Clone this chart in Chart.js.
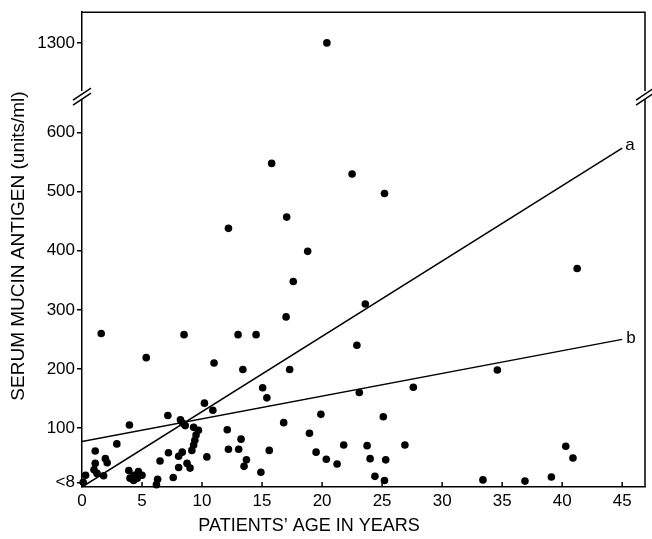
<!DOCTYPE html>
<html>
<head>
<meta charset="utf-8">
<script src="https://cdn.jsdelivr.net/npm/chart.js@4"></script>
<style>
  body { margin: 0; background: #fff; }
</style>
</head>
<body>
<canvas id="chart" width="652" height="539"></canvas>
<script>
// patients' age (years) and serum mucin antigen (units/ml)
const ages = [
  20.4, 15.8, 17.05, 12.2, 18.8, 22.5, 25.2, 41.25, 17.6, 23.6,
  17.0, 1.6, 8.5, 13.0, 14.5, 22.9, 5.35, 11.0, 13.4, 17.3,
  34.6, 15.05, 27.6, 23.1, 15.4, 10.2, 10.9, 19.9, 7.15, 25.1,
  8.2, 8.4, 8.6, 3.95, 16.8, 9.3, 9.7, 12.1, 9.5, 18.95,
  9.4, 13.25, 2.9, 9.3, 21.8, 23.75, 26.9, 40.3, 9.15, 12.2,
  13.05, 15.6, 1.1, 19.5, 7.2, 8.35, 8.05, 10.4, 40.9, 1.95,
  20.35, 24.0, 25.3, 13.7, 6.5, 2.1, 1.1, 8.75, 21.25, 13.5,
  8.05, 9.0, 1.0, 3.9, 4.7, 14.9, 1.25, 4.3, 5.0, 0.3,
  1.8, 24.4, 39.1, 7.6, 4.0, 4.6, 4.3, 6.3, 6.2, 25.2,
  33.4, 36.9, 0.1
];
const antigen = [
  1300, 548, 457, 438, 399, 530, 497, 370, 348, 310,
  288, 260, 258, 258, 258, 240, 219, 210, 199, 199,
  198, 168, 169, 160, 151, 142, 130, 123, 121, 119,
  114, 108, 104, 105, 109, 101, 96, 97, 88, 91,
  79, 81, 73, 71, 71, 70, 71, 69, 62, 64,
  64, 62, 61, 59, 58, 59, 52, 51, 49, 48,
  47, 48, 46, 46, 44, 41, 40, 40, 39, 35,
  33, 32, 29, 28, 26, 25, 23, 20, 20, 20,
  19, 18, 17, 16, 15, 15, 11, 13, 4, 11,
  12, 10, 8
];

// regression lines a and b
const fitAges = [0, 45];
const fitA = [0, 574];
const fitB = [77, 250];

const xTickValues = [0, 5, 10, 15, 20, 25, 30, 35, 40, 45];
const yTickValues = [8, 100, 200, 300, 400, 500, 600, 1300];
const yTickLabels = ["<8", "100", "200", "300", "400", "500", "600", "1300"];

// broken axis: everything above the break is pulled down
const BREAK_AT = 662;
function toAxis(v) { return v > 700 ? v - 548 : v; }

const FONT = "'Liberation Sans', Arial, sans-serif";

const frame = {
  id: "frame",
  afterDraw(chart) {
    const { ctx, chartArea: a, scales: { x, y } } = chart;
    ctx.save();
    ctx.strokeStyle = "#000";
    ctx.lineWidth = 1.5;

    ctx.beginPath();
    ctx.moveTo(a.left, a.top);
    ctx.lineTo(a.right, a.top);
    ctx.lineTo(a.right, a.bottom);
    ctx.stroke();

    // x ticks point inwards
    xTickValues.forEach(v => {
      const px = x.getPixelForValue(v);
      ctx.beginPath();
      ctx.moveTo(px, a.bottom);
      ctx.lineTo(px, a.bottom - 5);
      ctx.stroke();
    });

    // axis break marks
    const by = y.getPixelForValue(BREAK_AT);
    [a.left, a.right].forEach(bx => {
      ctx.fillStyle = "#fff";
      ctx.fillRect(bx - 2, by - 5, 4, 8);
      ctx.beginPath();
      ctx.moveTo(bx - 9, by + 4);
      ctx.lineTo(bx + 9, by - 8);
      ctx.moveTo(bx - 9, by + 9);
      ctx.lineTo(bx + 9, by - 3);
      ctx.stroke();
    });

    // line labels
    ctx.fillStyle = "#000";
    ctx.font = "17px " + FONT;
    ctx.textAlign = "left";
    ctx.textBaseline = "middle";
    ctx.fillText("a", x.getPixelForValue(fitAges[1]) + 3, y.getPixelForValue(fitA[1]) - 3);
    ctx.fillText("b", x.getPixelForValue(fitAges[1]) + 4, y.getPixelForValue(fitB[1]) - 1);

    // axis titles
    ctx.textAlign = "center";
    ctx.font = "18px " + FONT;
    ctx.fillText("PATIENTS\u2019 AGE IN YEARS", 309, 526);
    ctx.translate(19, 246);
    ctx.rotate(-Math.PI / 2);
    ctx.font = "19px " + FONT;
    ctx.fillText("SERUM MUCIN ANTIGEN (units/ml)", 0, 0);
    ctx.restore();
  }
};

new Chart(document.getElementById("chart"), {
  type: "scatter",
  data: {
    datasets: [
      {
        data: ages.map((a, i) => ({ x: a, y: toAxis(antigen[i]) })),
        pointRadius: 3.8,
        pointBackgroundColor: "#000",
        pointBorderWidth: 0,
        clip: false,
      },
      {
        data: fitAges.map((a, i) => ({ x: a, y: fitA[i] })),
        showLine: true,
        borderColor: "#000",
        borderWidth: 1.5,
        pointRadius: 0,
      },
      {
        data: fitAges.map((a, i) => ({ x: a, y: fitB[i] })),
        showLine: true,
        borderColor: "#000",
        borderWidth: 1.5,
        pointRadius: 0,
      },
    ],
  },
  options: {
    responsive: false,
    animation: false,
    layout: { padding: { top: 11, right: 7, left: 0, bottom: 0 } },
    plugins: { legend: { display: false }, tooltip: { enabled: false } },
    scales: {
      x: {
        type: "linear",
        min: 0,
        max: 46.9,
        afterFit(scale) { scale.height = 52; },
        afterBuildTicks(scale) { scale.ticks = xTickValues.map(v => ({ value: v })); },
        grid: { display: false },
        border: { display: true, color: "#000", width: 1.5 },
        ticks: { color: "#000", padding: -4, maxRotation: 0, font: { family: FONT, size: 17 } },
      },
      y: {
        type: "linear",
        min: 0,
        max: 804,
        afterFit(scale) { scale.width = 82; },
        afterBuildTicks(scale) { scale.ticks = yTickValues.map(v => ({ value: toAxis(v) })); },
        grid: { drawOnChartArea: false, color: "#000", lineWidth: 1.5, tickLength: 5 },
        border: { display: true, color: "#000", width: 1.5 },
        ticks: {
          color: "#000",
          padding: 2,
          font: { family: FONT, size: 17 },
          callback: (v, i) => yTickLabels[i],
        },
      },
    },
  },
  plugins: [frame],
});
</script>
</body>
</html>
